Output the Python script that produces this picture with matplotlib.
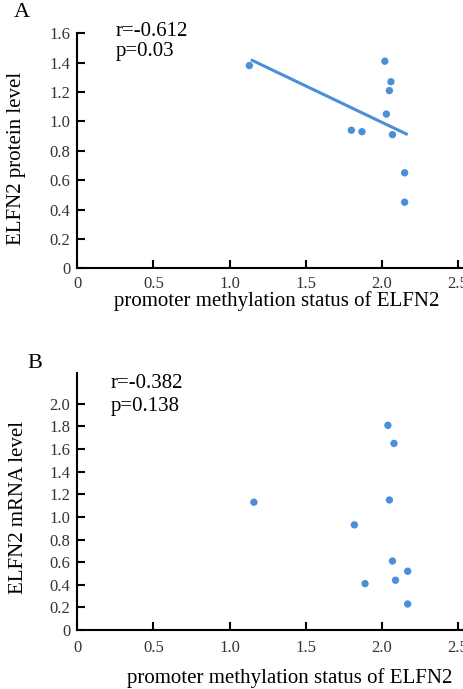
import matplotlib
matplotlib.use("Agg")
import matplotlib.pyplot as plt

# Promoter methylation vs. ELFN2 protein level (panel A)
meth_a = [1.13, 2.02, 2.06, 2.05, 2.03, 1.80, 1.87, 2.07, 2.15, 2.15]
protein = [1.38, 1.41, 1.27, 1.21, 1.05, 0.94, 0.93, 0.91, 0.65, 0.45]
fit_x = [1.14, 2.17]
fit_y = [1.42, 0.91]
stats_a = ["r=-0.612", "p=0.03"]

# Promoter methylation vs. ELFN2 mRNA level (panel B)
meth_b = [2.04, 2.08, 1.16, 2.05, 1.82, 2.07, 2.17, 2.09, 1.89, 2.17]
mrna = [1.81, 1.65, 1.13, 1.15, 0.93, 0.61, 0.52, 0.44, 0.41, 0.23]
stats_b = ["r=-0.382", "p=0.138"]

x_ticks = [0, 0.5, 1.0, 1.5, 2.0, 2.5]
x_labels = ["0", "0.5", "1.0", "1.5", "2.0", "2.5"]
ya_ticks = [0, 0.2, 0.4, 0.6, 0.8, 1.0, 1.2, 1.4, 1.6]
ya_labels = ["0", "0.2", "0.4", "0.6", "0.8", "1.0", "1.2", "1.4", "1.6"]
yb_ticks = [0, 0.2, 0.4, 0.6, 0.8, 1.0, 1.2, 1.4, 1.6, 1.8, 2.0]
yb_labels = ["0", "0.2", "0.4", "0.6", "0.8", "1.0", "1.2", "1.4", "1.6", "1.8", "2.0"]

xlabel = "promoter methylation status of ELFN2"
serif = "Liberation Serif"
blue = "#4a8fd8"

fig = plt.figure(figsize=(4.64, 6.89), dpi=100)
ax_a = fig.add_axes([0.1666, 0.6106, 0.8334, 0.3411])
ax_b = fig.add_axes([0.1666, 0.0856, 0.8334, 0.3726])


def style(ax, yticks, ylabels, ytop, xpad):
    ax.set_xlim(0, 2.54)
    ax.set_ylim(0, ytop)
    for s in ("top", "right"):
        ax.spines[s].set_visible(False)
    for s in ("left", "bottom"):
        ax.spines[s].set_linewidth(1.5)
        ax.spines[s].set_color("black")
    ax.set_xticks(x_ticks)
    ax.set_xticklabels(x_labels, fontfamily=serif, fontsize=12, color="#333333")
    ax.set_yticks(yticks)
    ax.set_yticklabels(ylabels, fontfamily=serif, fontsize=12, color="#333333")
    ax.tick_params(axis="both", direction="in", length=6, width=1.5)
    ax.tick_params(axis="x", pad=xpad)
    ax.tick_params(axis="y", pad=5)


style(ax_a, ya_ticks, ya_labels, 1.6, 5.5)
ax_a.plot(fit_x, fit_y, color=blue, lw=2.2, solid_capstyle="butt", zorder=2)
ax_a.scatter(meth_a, protein, s=28, color=blue, edgecolors="none", zorder=3)
ax_a.set_ylabel("ELFN2 protein level", fontfamily=serif, fontsize=15)
ax_a.yaxis.set_label_coords(-0.133, 0.469)
ax_a.set_xlabel(xlabel, fontfamily=serif, fontsize=15, va="center")
ax_a.xaxis.set_label_coords(0.516, -0.14)
ax_a.text(0.099, 1.007, stats_a[0], transform=ax_a.transAxes, fontfamily=serif,
          fontsize=15, va="center", ha="left")
ax_a.text(0.099, 0.922, stats_a[1], transform=ax_a.transAxes, fontfamily=serif,
          fontsize=15, va="center", ha="left")

style(ax_b, yb_ticks, yb_labels, 2.27, 7.5)
ax_b.scatter(meth_b, mrna, s=28, color=blue, edgecolors="none", zorder=3)
ax_b.set_ylabel("ELFN2 mRNA level", fontfamily=serif, fontsize=15)
ax_b.yaxis.set_label_coords(-0.1275, 0.477)
ax_b.set_xlabel(xlabel, fontfamily=serif, fontsize=15, va="center")
ax_b.xaxis.set_label_coords(0.55, -0.187)
ax_b.text(0.086, 0.961, stats_b[0], transform=ax_b.transAxes, fontfamily=serif,
          fontsize=15, va="center", ha="left")
ax_b.text(0.086, 0.870, stats_b[1], transform=ax_b.transAxes, fontfamily=serif,
          fontsize=15, va="center", ha="left")

fig.text(0.0463, 0.9819, "A", fontfamily=serif, fontsize=16, ha="center", va="center")
fig.text(0.0754, 0.4731, "B", fontfamily=serif, fontsize=16, ha="center", va="center")

fig.savefig("out.png", dpi=100, facecolor="white")
